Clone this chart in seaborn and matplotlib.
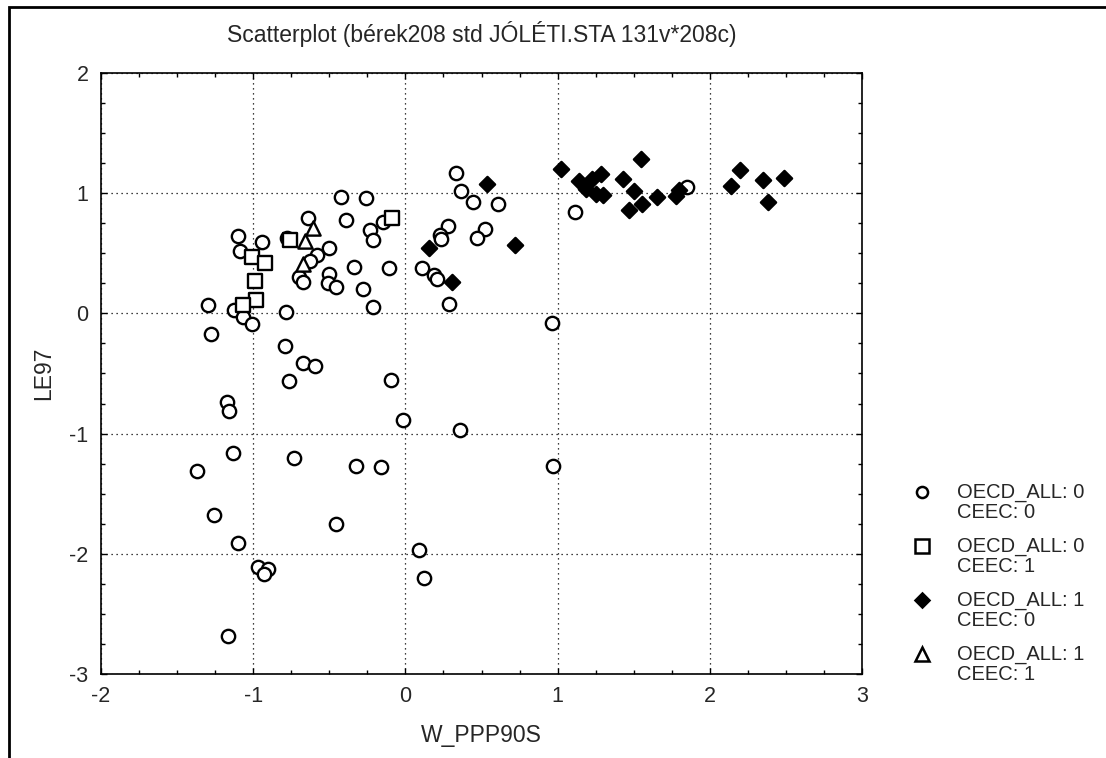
import matplotlib
matplotlib.use("Agg")
import matplotlib.pyplot as plt
from matplotlib.patches import Rectangle
from matplotlib.lines import Line2D
from matplotlib.ticker import MultipleLocator
import seaborn as sns
import pandas as pd

# ---- data ----
g00_x = [-0.42, -0.26, -0.64, -0.39, -1.10, -0.94, -0.78, -1.09, -0.50, -0.58,
         -0.23, -0.15, -0.21, -0.625, -0.335, -0.105, -0.50, -0.70, -0.67, -0.51,
         -0.456, -0.28, -0.21, -1.30, -1.125, -1.066, -1.01, -0.785, -1.28, -0.79,
         0.11, 0.333, 0.366, 0.443, 0.61, 0.283, 0.228, 0.237, 0.52, 0.47,
         0.19, 0.21, 0.285, 0.965, 1.116, 1.85, -0.67, -0.594, -0.768, -0.092,
         -1.175, -1.16, -0.018, 0.36, -1.133, -0.735, -0.325, -0.16, -1.366, 0.97,
         -1.255, -1.10, -0.454, -0.967, -0.906, -0.932, 0.092, 0.125, -1.164]
g00_y = [0.97, 0.96, 0.79, 0.78, 0.64, 0.59, 0.63, 0.52, 0.54, 0.49,
         0.69, 0.76, 0.61, 0.44, 0.39, 0.38, 0.33, 0.30, 0.26, 0.25,
         0.22, 0.20, 0.05, 0.07, 0.03, -0.03, -0.09, 0.01, -0.17, -0.275,
         0.38, 1.165, 1.015, 0.93, 0.91, 0.73, 0.65, 0.62, 0.70, 0.63,
         0.32, 0.285, 0.08, -0.077, 0.845, 1.05, -0.41, -0.435, -0.56, -0.55,
         -0.74, -0.81, -0.89, -0.97, -1.165, -1.20, -1.27, -1.275, -1.31, -1.27,
         -1.68, -1.91, -1.75, -2.11, -2.13, -2.17, -1.97, -2.20, -2.68]

g01_x = [-0.09, -0.76, -1.01, -0.92, -0.99, -0.98, -1.07]
g01_y = [0.79, 0.61, 0.47, 0.42, 0.27, 0.115, 0.07]

g10_x = [0.537, 0.158, 0.72, 0.305, 1.02, 1.14, 1.184, 1.228, 1.285, 1.255,
         1.30, 1.43, 1.545, 1.505, 1.555, 1.47, 1.65, 1.78, 1.80, 2.14,
         2.20, 2.35, 2.38, 2.49]
g10_y = [1.075, 0.545, 0.57, 0.265, 1.205, 1.105, 1.035, 1.12, 1.16, 0.99,
         0.985, 1.12, 1.285, 1.015, 0.91, 0.86, 0.97, 0.98, 1.03, 1.06,
         1.19, 1.11, 0.93, 1.13]

g11_x = [-0.605, -0.66, -0.67]
g11_y = [0.71, 0.60, 0.41]

group_labels = ["OECD_ALL: 0\nCEEC: 0", "OECD_ALL: 0\nCEEC: 1",
                "OECD_ALL: 1\nCEEC: 0", "OECD_ALL: 1\nCEEC: 1"]

title_text = "Scatterplot (bérek208 std JÓLÉTI.STA 131v*208c)"
x_label = "W_PPP90S"
y_label = "LE97"

# ---- figure ----
sns.set_style("white")
plt.rcParams["font.family"] = ["Liberation Sans", "DejaVu Sans"]
plt.rcParams["axes.unicode_minus"] = False

W, H = 1106, 758
fig = plt.figure(figsize=(W / 100, H / 100), dpi=100)
ax = fig.add_axes([101 / W, 1 - 674 / H, 761 / W, 601 / H])

styles = [
    dict(marker="o", facecolor="white", s=92, leg_ms=8.0),
    dict(marker="s", facecolor="white", s=115, leg_ms=10.0),
    dict(marker="D", facecolor="black", s=60, leg_ms=7.5),
    dict(marker="^", facecolor="white", s=105, leg_ms=10.0),
]
groups = [(g00_x, g00_y), (g01_x, g01_y), (g10_x, g10_y), (g11_x, g11_y)]

for (gx, gy), lab, st in zip(groups, group_labels, styles):
    df = pd.DataFrame({"x": gx, "y": gy})
    sns.scatterplot(data=df, x="x", y="y", ax=ax, marker=st["marker"],
                    s=st["s"], color=st["facecolor"], edgecolor="black",
                    linewidth=1.7, legend=False, zorder=3)

ax.set_xlim(-2, 3)
ax.set_ylim(-3, 2)
ax.xaxis.set_major_locator(MultipleLocator(1))
ax.yaxis.set_major_locator(MultipleLocator(1))
ax.xaxis.set_minor_locator(MultipleLocator(0.25))
ax.yaxis.set_minor_locator(MultipleLocator(0.25))
ax.tick_params(which="both", direction="in", top=True, right=True,
               bottom=True, left=True, color="black")
ax.tick_params(which="major", length=4, width=1, labelsize=15.5, pad=9)
ax.tick_params(which="minor", length=3, width=1)
ax.grid(True, which="major", color="black", linestyle=(0, (1, 3)), linewidth=0.9)
for sp in ax.spines.values():
    sp.set_color("black")
    sp.set_linewidth(1.2)

ax.set_xlabel(x_label, fontsize=16.5, labelpad=12)
ax.set_ylabel(y_label, fontsize=16.5, labelpad=10)
ax.set_title(title_text, fontsize=16.5, pad=22)

# ---- legend (marker aligned with the first text line, as in the reference) ----
leg_y = [492, 546, 600, 654]
for lab, st, yy in zip(group_labels, styles, leg_y):
    fig.add_artist(Line2D([922 / W], [1 - yy / H], transform=fig.transFigure,
                          marker=st["marker"], markersize=st["leg_ms"],
                          markerfacecolor=st["facecolor"], markeredgecolor="black",
                          markeredgewidth=1.8, linestyle="none"))
    lines = lab.split("\n")
    for k, line in enumerate(lines):
        fig.text(957 / W, 1 - (yy + 21 * k) / H, line, fontsize=14.5,
                 va="center", ha="left")

fig.patches.append(Rectangle((9 / W, -0.1), 1.2, (1 - 7 / H) + 0.1,
                             transform=fig.transFigure, fill=False,
                             edgecolor="black", linewidth=2))

fig.savefig("out.png", dpi=100)
